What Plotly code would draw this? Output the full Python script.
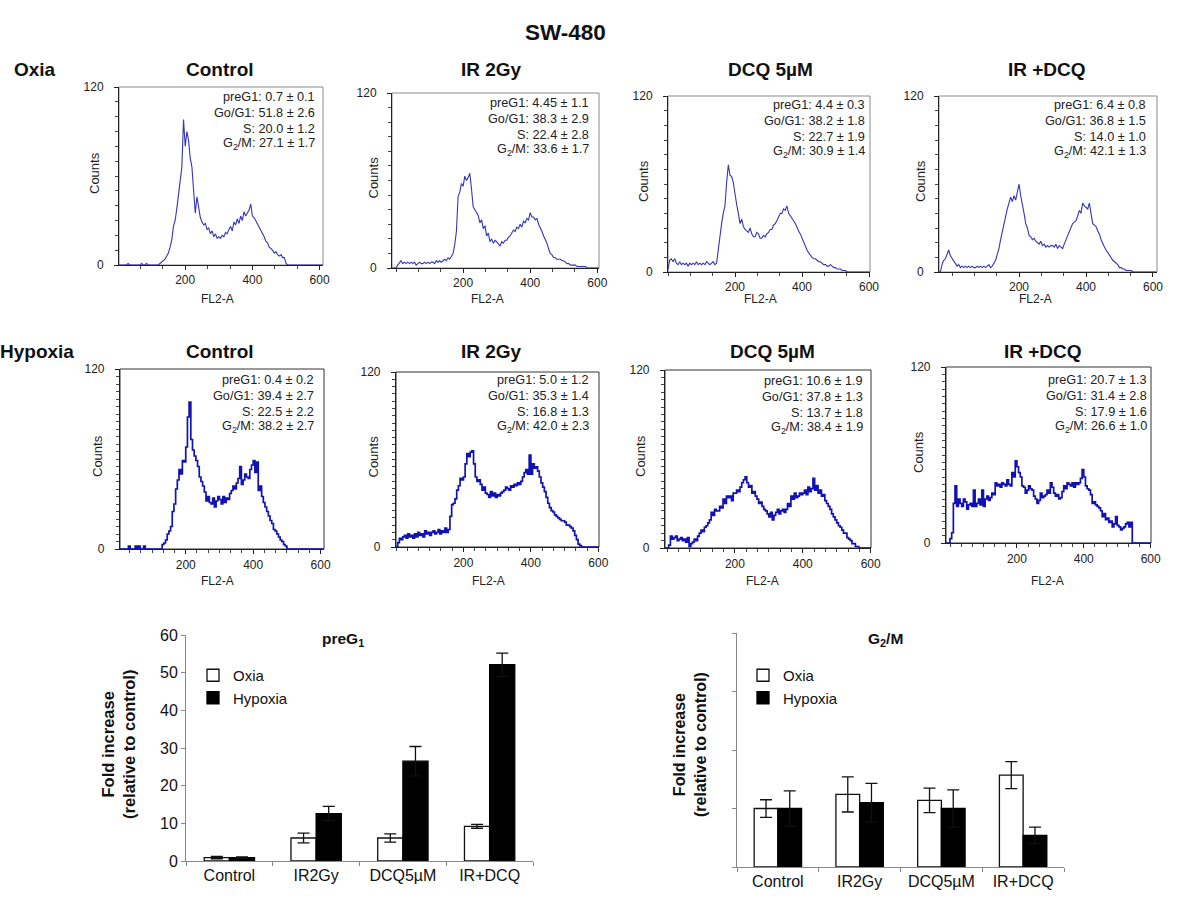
import plotly.graph_objects as go

FONT = "Arial, Liberation Sans, Helvetica, sans-serif"
W, H = 1200, 900


def px(x):
    return x / W


def py(y):
    return 1 - y / H


# ---------------- DATA ----------------
# FL2-A channel grid (-40 .. 610, step 5)
fl2 = list(range(-40, 615, 5))

oxia_control = [
    0, 0, 0, 0, 0, 0, 0, 0,
    0, 0, 0, 0, 0, 0, 1, 0, 0, 0,
    0, 0, 0, 0, 1, 0, 0, 1, 0, 0,
    0, 0, 0, 0, 0, 1, 2, 3, 4, 6,
    8, 12, 17, 26, 30, 38, 48, 58, 66, 98,
    80, 90, 84, 72, 66, 50, 35, 46, 40, 32,
    29, 27, 28, 24, 25, 21, 23, 19, 21, 18,
    19, 18, 20, 19, 22, 21, 24, 26, 23, 29,
    27, 31, 28, 33, 30, 36, 33, 35, 37, 41,
    33, 32, 30, 28, 26, 23, 22, 19, 16, 15,
    12, 11, 10, 8, 9, 7, 6, 7, 5, 5,
    1, 0, 0, 0, 0, 0, 0, 0, 0, 0,
    0, 0, 0, 0, 0, 0, 0, 0, 0, 0,
    0, 0, 0,
]

oxia_ir2gy = [
    0, 0, 0, 0, 0, 0, 0, 0,
    0, 2, 4, 5, 3, 4, 3, 4, 3, 4,
    3, 4, 2, 3, 4, 3, 3, 4, 3, 4,
    3, 4, 4, 3, 5, 4, 5, 4, 5, 6,
    5, 7, 6, 8, 10, 16, 25, 49, 52, 58,
    56, 63, 60, 62, 65, 54, 42, 40, 38, 36,
    31, 33, 27, 29, 22, 24, 18, 20, 17, 19,
    18, 16, 15, 18, 17, 19, 19, 21, 22, 24,
    26, 25, 28, 27, 30, 28, 32, 31, 34, 33,
    38, 35, 35, 33, 34, 30, 28, 25, 22, 20,
    17, 13, 10, 9, 7, 7, 6, 6, 6, 5,
    5, 4, 3, 3, 2, 2, 2, 2, 1, 1,
    1, 1, 1, 1, 0, 0, 0, 0, 0, 0,
    0, 0, 0,
]

oxia_dcq = [
    0, 0, 0, 0, 0, 0, 0, 0,
    2, 8, 9, 7, 9, 6, 5, 7, 5, 6,
    5, 6, 4, 6, 5, 6, 5, 7, 5, 6,
    5, 6, 5, 7, 6, 5, 6, 7, 5, 6,
    15, 25, 33, 40, 45, 61, 73, 66, 65, 61,
    52, 46, 40, 33, 36, 31, 29, 28, 27, 30,
    26, 24, 24, 27, 26, 23, 23, 25, 24, 26,
    27, 29, 29, 32, 33, 35, 38, 40, 40, 43,
    42, 45, 40, 38, 37, 35, 33, 30, 28, 26,
    23, 20, 18, 15, 13, 11, 10, 9, 9, 8,
    7, 7, 6, 5, 5, 4, 4, 5, 4, 3,
    3, 2, 2, 2, 1, 1, 1, 0, 0, 0,
    0, 0, 0, 0, 0, 0, 0, 0, 0, 0,
    0, 0, 0,
]

oxia_ir_dcq = [
    0, 0, 5, 8, 9, 12, 15, 11,
    9, 7, 5, 4, 5, 3, 4, 3, 4, 3,
    4, 3, 4, 3, 3, 4, 3, 4, 3, 4,
    3, 4, 5, 3, 4, 6, 8, 12, 16, 22,
    28, 33, 38, 43, 47, 51, 48, 52, 49, 56,
    60, 52, 47, 40, 33, 30, 25, 24, 22, 23,
    21, 20, 19, 21, 18, 19, 17, 18, 17, 18,
    18, 17, 19, 16, 18, 17, 16, 19, 22, 25,
    28, 31, 33, 34, 35, 38, 42, 40, 47, 45,
    44, 43, 47, 40, 33, 32, 31, 28, 26, 22,
    19, 17, 15, 13, 11, 9, 8, 7, 6, 5,
    3, 3, 2, 2, 1, 1, 1, 1, 0, 0,
    0, 0, 0, 0, 0, 0, 0, 0, 0, 0,
    0, 0, 0,
]

hypoxia_control = [
    0, 0, 0, 0, 0, 0, 0, 0,
    0, 0, 0, 0, 0, 0, 2, 0, 0, 0,
    2, 0, 2, 0, 0, 2, 0, 0, 0, 0,
    0, 0, 0, 0, 0, 0, 3, 4, 6, 10,
    12, 15, 25, 30, 40, 46, 53, 50, 59, 58,
    68, 88, 98, 73, 66, 62, 59, 55, 48, 45,
    42, 38, 32, 35, 31, 30, 34, 28, 32, 35,
    33, 30, 35, 31, 34, 33, 37, 39, 42, 40,
    44, 47, 55, 43, 46, 50, 48, 47, 53, 56,
    59, 51, 58, 39, 42, 35, 31, 28, 25, 22,
    19, 17, 13, 12, 10, 8, 6, 5, 3, 2,
    0, 0, 0, 0, 0, 0, 0, 0, 0, 0,
    0, 0, 0, 0, 0, 0, 0, 0, 0, 0,
    0, 0, 0,
]

hypoxia_ir2gy = [
    0, 0, 0, 0, 0, 0, 0, 0,
    0, 3, 6, 5, 7, 8, 6, 9, 7, 8,
    6, 9, 7, 10, 8, 9, 7, 11, 9, 10,
    8, 10, 11, 9, 10, 12, 9, 11, 10, 13,
    10, 12, 21, 29, 30, 33, 39, 42, 47, 46,
    48, 57, 64, 62, 65, 66, 57, 48, 45, 46,
    43, 39, 41, 37, 36, 34, 38, 35, 37, 34,
    36, 35, 37, 38, 39, 41, 40, 39, 42, 41,
    43, 42, 44, 43, 45, 48, 51, 53, 50, 63,
    50, 57, 54, 55, 52, 48, 44, 41, 38, 34,
    30, 27, 25, 24, 22, 21, 20, 19, 18, 18,
    17, 15, 15, 14, 13, 11, 8, 5, 2, 1,
    0, 0, 0, 0, 0, 0, 0, 0, 0, 0,
    0, 0, 0,
]

hypoxia_dcq = [
    0, 0, 0, 0, 0, 0, 0, 0,
    0, 2, 8, 6, 7, 8, 5, 6, 7, 5,
    6, 4, 7, 1, 3, 4, 6, 5, 8, 10,
    12, 11, 14, 15, 17, 19, 24, 22, 26, 25,
    25, 28, 27, 33, 30, 35, 34, 35, 32, 37,
    37, 39, 38, 41, 44, 46, 48, 44, 41, 42,
    37, 38, 35, 33, 30, 31, 28, 26, 25, 23,
    21, 24, 19, 22, 24, 26, 23, 25, 26, 24,
    26, 30, 28, 35, 33, 37, 34, 35, 37, 36,
    37, 39, 36, 41, 38, 40, 47, 39, 42, 37,
    39, 35, 36, 32, 30, 28, 26, 23, 21, 19,
    17, 15, 14, 12, 10, 10, 7, 6, 5, 3,
    3, 1, 1, 0, 0, 0, 0, 0, 0, 0,
    0, 0, 0,
]

hypoxia_ir_dcq = [
    0, 0, 0, 0, 0, 0, 0, 0,
    3, 7, 27, 39, 25, 30, 27, 25, 30, 28,
    23, 26, 27, 25, 36, 25, 27, 30, 26, 36,
    25, 30, 32, 29, 31, 34, 33, 41, 39, 40,
    38, 41, 40, 39, 43, 40, 39, 48, 45, 56,
    52, 48, 45, 39, 38, 34, 36, 39, 37, 36,
    32, 30, 27, 29, 34, 31, 32, 33, 36, 34,
    41, 38, 34, 32, 33, 30, 31, 35, 39, 37,
    41, 40, 39, 41, 38, 41, 40, 41, 44, 50,
    45, 39, 37, 36, 33, 27, 28, 26, 25, 24,
    22, 18, 20, 16, 17, 14, 15, 11, 13, 18,
    12, 11, 9, 10, 11, 13, 14, 11, 14, 0,
    0, 0, 0, 0, 0, 0, 0, 0, 0, 0,
    0, 0, 0,
]

panel_titles = ["Control", "IR 2Gy", "DCQ 5µM", "IR +DCQ",
                "Control", "IR 2Gy", "DCQ 5µM", "IR +DCQ"]
preg1_stat = ["0.7 ± 0.1", "4.45 ± 1.1", "4.4 ± 0.3", "6.4 ± 0.8",
              "0.4 ± 0.2", "5.0 ± 1.2", "10.6 ± 1.9", "20.7 ± 1.3"]
g0g1_stat = ["51.8 ± 2.6", "38.3 ± 2.9", "38.2 ± 1.8", "36.8 ± 1.5",
             "39.4 ± 2.7", "35.3 ± 1.4", "37.8 ± 1.3", "31.4 ± 2.8"]
s_stat = ["20.0 ± 1.2", "22.4 ± 2.8", "22.7 ± 1.9", "14.0 ± 1.0",
          "22.5 ± 2.2", "16.8 ± 1.3", "13.7 ± 1.8", "17.9 ± 1.6"]
g2m_stat = ["27.1 ± 1.7", "33.6 ± 1.7", "30.9 ± 1.4", "42.1 ± 1.3",
            "38.2 ± 2.7", "42.0 ± 2.3", "38.4 ± 1.9", "26.6 ± 1.0"]

hist_counts = [oxia_control, oxia_ir2gy, oxia_dcq, oxia_ir_dcq,
               hypoxia_control, hypoxia_ir2gy, hypoxia_dcq, hypoxia_ir_dcq]

categories = ["Control", "IR2Gy", "DCQ5µM", "IR+DCQ"]
preg1_oxia = [0.9, 6.1, 6.1, 9.2]
preg1_oxia_err = [0.3, 1.3, 1.1, 0.5]
preg1_hyp = [0.9, 12.6, 26.5, 52.1]
preg1_hyp_err = [0.2, 1.9, 3.9, 3.1]
g2m_oxia = [1.0, 1.24, 1.14, 1.57]
g2m_oxia_err = [0.15, 0.30, 0.21, 0.23]
g2m_hyp = [1.0, 1.10, 1.0, 0.54]
g2m_hyp_err = [0.30, 0.33, 0.32, 0.14]

# ---------------- LAYOUT SPECS (pixels) ----------------
# box x0, x1, y0(top), y1(bottom), x-range, title x, stat right x, stat first y, counts x, fl2 x
hist_layout = [
    (119, 323, 87, 265, (3, 610), 220, 317, 97, 95, 217),
    (392, 599, 93, 268, (-12, 605), 492, 591, 103, 373, 487),
    (668, 870, 96, 272, (0, 603), 770, 867, 105, 643, 760),
    (939, 1157, 96, 272, (-39, 612), 1047, 1148, 105, 920, 1035),
    (120, 324, 369, 549, (5, 610), 220, 316, 380, 97, 217),
    (396, 599, 372, 547, (0, 602), 492, 591, 380, 373, 488),
    (665, 871, 370, 548, (-6, 601), 772, 865, 381, 640, 762),
    (946, 1151, 367, 543, (-12, 601), 1043, 1149, 380, 918, 1047),
]

fig = go.Figure()
layout = dict(
    template="none",
    width=W, height=H,
    margin=dict(l=0, r=0, t=0, b=0, pad=0, autoexpand=False),
    paper_bgcolor="white", plot_bgcolor="white",
    font=dict(family=FONT, color="#111"),
    bargap=0.42, bargroupgap=0.0,
    barmode="group",
)
annotations = []
shapes = []


def text(x, y, s, size, anchor="center", angle=0, color="#111"):
    annotations.append(dict(
        x=px(x), y=py(y), xref="paper", yref="paper", text=s, showarrow=False,
        font=dict(size=size, family=FONT, color=color),
        xanchor=anchor, yanchor="middle", textangle=angle))


for i, counts in enumerate(hist_counts):
    assert len(counts) == len(fl2), (i, len(counts))
    k = i + 1
    x0, x1, y0, y1, xr, tx, sx, sy, cx, fx = hist_layout[i]
    row2 = i >= 4
    fig.add_trace(go.Scatter(
        x=fl2, y=counts, mode="lines",
        line=dict(color="#1212b2" if row2 else "#3535b8",
                  width=1.7 if row2 else 1.1,
                  shape="hv" if row2 else "linear"),
        xaxis=f"x{k}", yaxis=f"y{k}", showlegend=False, hoverinfo="skip",
        cliponaxis=True))
    layout[f"xaxis{k}"] = dict(
        domain=[px(x0), px(x1)], range=list(xr), anchor=f"y{k}", automargin=False,
        showline=True, linecolor="#222", linewidth=1.2 if row2 else 1,
        showgrid=False, zeroline=False,
        tickvals=[200, 400, 600], ticks="outside", ticklen=4, tickcolor="#222",
        tickfont=dict(size=12, color="#222"), ticklabelstandoff=0,
        minor=dict(ticks="outside", ticklen=3, tickcolor="#444", showgrid=False,
                   tick0=0, dtick=(200 / 6) if row2 else (200 / 3)),
    )
    layout[f"yaxis{k}"] = dict(
        domain=[py(y1), py(y0)], range=[0, 120], anchor=f"x{k}", automargin=False,
        showline=True, linecolor="#222", linewidth=1.2 if row2 else 1,
        showgrid=False, zeroline=False,
        tickvals=[0, 120], ticks="outside", ticklen=4, tickcolor="#222",
        tickfont=dict(size=12, color="#222"), ticklabelstandoff=8,
        minor=dict(ticks="outside", ticklen=3, tickcolor="#444", showgrid=False,
                   tick0=0, dtick=5 if row2 else 10),
    )
    shapes.append(dict(type="rect", xref="paper", yref="paper",
                       x0=px(x0), x1=px(x1), y0=py(y1), y1=py(y0),
                       line=dict(color="#333" if row2 else "#8a8a8a", width=1),
                       layer="below"))
    # title
    text(tx, 351 if row2 else 69, f"<b>{panel_titles[i]}</b>", 19)
    # stats
    lines = [f"preG1: {preg1_stat[i]}", f"Go/G1: {g0g1_stat[i]}",
             f"S: {s_stat[i]}", f"G<sub>2</sub>/M: {g2m_stat[i]}"]
    for j, ln in enumerate(lines):
        text(sx, sy + j * 15.8, ln, 12.7, anchor="right", color="#222")
    # axis titles
    text(cx, (y0 + y1) / 2 - 3, "Counts", 13, angle=-90, color="#222")
    text(fx, 581 if row2 else 299, "FL2-A", 12, color="#222")

# Row labels and main title
text(565, 32, "<b>SW-480</b>", 22.5)
text(12, 69, "<b>Oxia</b>", 19, anchor="left")
text(-2, 351, "<b>Hypoxia</b>", 19, anchor="left")

# ---------------- BAR CHARTS ----------------
bar_specs = [
    (9, preg1_oxia, preg1_oxia_err, preg1_hyp, preg1_hyp_err, "legend"),
    (10, g2m_oxia, g2m_oxia_err, g2m_hyp, g2m_hyp_err, "legend2"),
]
for k, ox, oxe, hy, hye, leg in bar_specs:
    fig.add_trace(go.Bar(
        x=categories, y=ox, name="Oxia",
        marker=dict(color="white", line=dict(color="#111", width=1.3)),
        error_y=dict(type="data", array=oxe, color="#111", thickness=1.3, width=6),
        xaxis=f"x{k}", yaxis=f"y{k}", legend=leg, hoverinfo="skip"))
    fig.add_trace(go.Bar(
        x=categories, y=hy, name="Hypoxia",
        marker=dict(color="#000", line=dict(color="#000", width=1.3)),
        error_y=dict(type="data", array=hye, color="#111", thickness=1.3, width=6),
        xaxis=f"x{k}", yaxis=f"y{k}", legend=leg, hoverinfo="skip"))

layout["xaxis9"] = dict(
    domain=[px(186), px(533)], anchor="y9", automargin=False, showline=True, linecolor="#888",
    linewidth=1, ticks="outside", ticklen=4, tickcolor="#888", tickson="boundaries",
    tickfont=dict(size=16, color="#111"), showgrid=False, zeroline=False)
layout["yaxis9"] = dict(
    domain=[py(861), py(635)], range=[0, 60], anchor="x9", automargin=False, showline=True,
    linecolor="#888", linewidth=1, ticks="outside", ticklen=4, tickcolor="#888",
    dtick=10, tickfont=dict(size=16, color="#111"), showgrid=False, zeroline=False)
layout["xaxis10"] = dict(
    domain=[px(737), px(1064)], anchor="y10", automargin=False, showline=True, linecolor="#888",
    linewidth=1, ticks="outside", ticklen=4, tickcolor="#888", tickson="boundaries",
    tickfont=dict(size=16, color="#111"), showgrid=False, zeroline=False)
layout["yaxis10"] = dict(
    domain=[py(867), py(633)], range=[0, 4], anchor="x10", automargin=False, showline=True,
    linecolor="#888", linewidth=1, ticks="outside", ticklen=4, tickcolor="#888",
    tickvals=[0, 1, 2, 3, 4], showticklabels=False, showgrid=False, zeroline=False)

layout["legend"] = dict(x=px(193), y=py(659), xanchor="left", yanchor="top",
                        bgcolor="rgba(0,0,0,0)", font=dict(size=15, color="#111"),
                        tracegroupgap=0)
layout["legend2"] = dict(x=px(743), y=py(659), xanchor="left", yanchor="top",
                         bgcolor="rgba(0,0,0,0)", font=dict(size=15, color="#111"),
                         tracegroupgap=0)

text(343, 639, "<b>preG<sub>1</sub></b>", 15.5)
text(885, 639, "<b>G<sub>2</sub>/M</b>", 15.5)
text(118, 745, "<b>Fold increase<br>(relative to control)</b>", 16.5, angle=-90)
text(690, 745, "<b>Fold increase<br>(relative to control)</b>", 16, angle=-90)

layout["annotations"] = annotations
layout["shapes"] = shapes
fig.update_layout(**layout)

post = (
    "var h=document.documentElement, b=document.body;"
    "h.style.margin='0';h.style.padding='0';h.style.overflow='hidden';"
    "b.style.margin='0';b.style.padding='0';b.style.overflow='hidden';"
    "var d=document.getElementById('{plot_id}');"
    "d.style.position='fixed';d.style.left='0px';d.style.top='0px';"
)
fig.write_html("out.html", config={"displayModeBar": False}, post_script=post)
